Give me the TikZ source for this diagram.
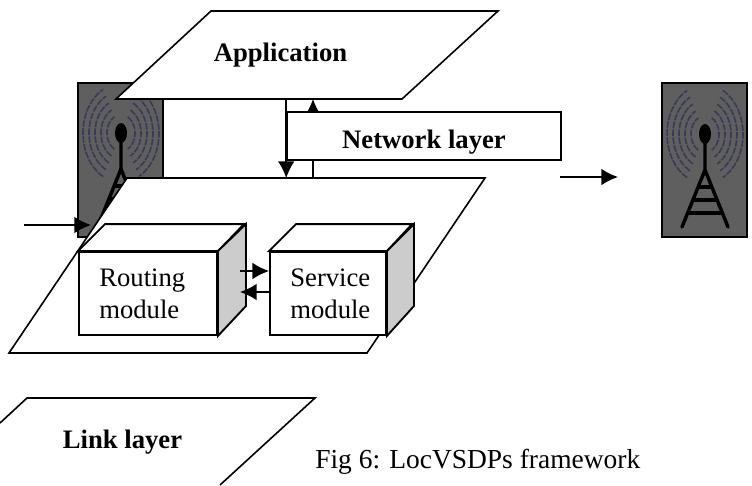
\documentclass[tikz,border=0pt]{standalone}
\usepackage{fontspec}
\setmainfont{Liberation Serif}
\usetikzlibrary{arrows.meta,positioning}
\definecolor{towergray}{HTML}{5F5F5F}
\definecolor{wavecol}{HTML}{3A3A58}
\definecolor{sidegray}{HTML}{CCCCCC}
\tikzset{
	layer/.style={draw=black, fill=white, line width=1.2pt, line join=miter},
	txt/.style={font=\fontsize{20}{24}\selectfont, inner sep=0pt},
	txtb/.style={txt, font=\fontsize{20}{24}\selectfont\bfseries},
	modbox/.style={draw=black, fill=white, line width=1.4pt, minimum height=62.25pt, inner sep=0pt},
	arr/.style={-{Latex[length=12.5pt,width=12.5pt]}, line width=1.2pt},
	towerbg/.style={draw=black, fill=towergray, line width=1.4pt, minimum width=64pt, minimum height=115pt, inner sep=0pt},
	towerpic/.pic={
		\foreach \r in {14,20,26,32,38} {
			\draw[wavecol, line width=1.2pt, dash pattern=on 5pt off 1pt] plot[domain=118:242, samples=24] ({\r*cos(\x)}, {1.3*\r*sin(\x)});
			\draw[wavecol, line width=1.2pt, dash pattern=on 5pt off 1pt] plot[domain=-62:62, samples=24] ({\r*cos(\x)}, {1.3*\r*sin(\x)});
		}
		\fill[black] (0,0) ellipse[x radius=6, y radius=10];
		\draw[black, line width=2.6pt, line cap=round] (0,0) -- (0,36) -- (-23,93);
		\draw[black, line width=2.6pt, line cap=round] (0,36) -- (23,93);
		\draw[black, line width=2.6pt] (-7,53) -- (7,53);
		\draw[black, line width=2.6pt] (-12,66) -- (12,66);
		\draw[black, line width=2.6pt] (-17,79) -- (17,79);
	},
}

\begin{document}
\begin{tikzpicture}[x=0.75pt, y=-0.75pt]
	\path[use as bounding box] (0,0) rectangle (752,485);
	% towers
	\node[towerbg] (towerL) at (120.5,160) {};
	\path (121,133) pic {towerpic};
	\node[towerbg] (towerR) at (704.5,160) {};
	\path (705,134) pic {towerpic};
	% layers
	\draw[layer] (211,11) -- (498,11) -- (402,99) coordinate (appSE) -- (116,99) coordinate (appSW) -- cycle;
	\node[txtb, anchor=base] (application) at (280.5,62) {Application};
	\draw[layer] (127,178) coordinate (planeNW) -- (485,178) -- (367,353) -- (9,353) -- cycle;
	% arrows between application and plane
	\coordinate (upFoot) at (313,178);
	\coordinate (upTip) at (313,99);
	\draw[arr] (upFoot) -- (upTip);
	\node[layer, minimum width=205.5pt, minimum height=36pt, inner sep=0pt] (network) at (424,136) {};
	\node[txtb, anchor=base] (networkText) at (424,148) {Network layer};
	\draw[arr] (network.west |- appSW) -- (network.west |- planeNW);
	% modules
	\node[modbox, minimum width=103.5pt] (routing) at (148,293.5) {};
	\draw[layer, line width=1.4pt] (routing.north west) -- ++(27,-27) -- ++(139,0) -- (routing.north east) -- cycle;
	\draw[layer, fill=sidegray, line width=1.4pt] (routing.north east) -- ++(28,-27) -- ++(0,82) -- (routing.south east) -- cycle;
	\node[txt, align=left, right=15.75pt of routing.west] (routingText) {Routing\\module};
	\node[modbox, minimum width=87pt] (service) at (328,293.5) {};
	\draw[layer, line width=1.4pt] (service.north west) -- ++(27,-27) -- ++(116,0) -- (service.north east) -- cycle;
	\draw[layer, fill=sidegray, line width=1.4pt] (service.north east) -- ++(27,-27) -- ++(0,82) -- (service.south east) -- cycle;
	\node[txt, align=left, right=15.75pt of service.west] (serviceText) {Service\\module};
	\coordinate (toServ) at (240,271);
	\coordinate (toRout) at (240,292);
	\draw[arr] (toServ) -- (toServ -| service.west);
	\draw[arr] (toRout -| service.west) -- (toRout);
	% free arrows
	\coordinate (inStart) at (24,225);
	\coordinate (inEnd) at (91,225);
	\draw[arr] (inStart) -- (inEnd);
	\coordinate (outStart) at (560,177);
	\coordinate (outEnd) at (618,177);
	\draw[arr] (outStart) -- (outEnd);
	% link layer
	\draw[layer] (0,423) -- (27,398) -- (315,398) -- (220,485);
	\node[txtb, anchor=base] (link) at (122.5,448) {Link layer};
	\node[txt, anchor=base west, font=\fontsize{20.6}{24}\selectfont] (caption) at (315,468) {Fig 6: LocVSDPs framework};
\end{tikzpicture}
\end{document}
